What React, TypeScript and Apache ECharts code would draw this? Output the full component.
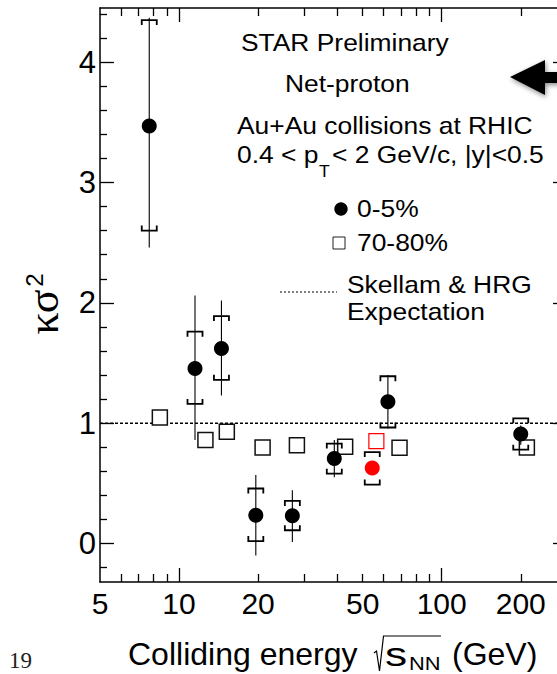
import React, { useEffect, useRef } from "react";
import * as echarts from "echarts";

// ---- data ----
const energies = [7.7, 11.5, 14.5, 19.6, 27, 39, 54.4, 62.4, 200];
// 0-5% most central (filled circles)
const central = [3.47, 1.455, 1.62, 0.235, 0.23, 0.707, 0.628, 1.177, 0.909];
const centralStatLow = [2.46, 0.86, 1.23, -0.1, 0.013, 0.55, 0.6, 0.956, 0.82];
const centralStatHigh = [4.37, 2.06, 2.02, 0.57, 0.443, 0.86, 0.66, 1.4, 0.98];
const centralSysLow = [2.6, 1.16, 1.36, 0.02, 0.11, 0.58, 0.49, 0.964, 0.78];
const centralSysHigh = [4.35, 1.76, 1.89, 0.457, 0.354, 0.83, 0.76, 1.39, 1.04];
// 70-80% peripheral (open squares, drawn slightly shifted in energy)
const peripheralEnergies = [8.45, 12.6, 15.2, 20.8, 28.1, 42.9, 56.4, 69.1, 211];
const peripheral = [1.047, 0.859, 0.928, 0.798, 0.817, 0.803, 0.85, 0.795, 0.798];
const highlightIndex = 6; // 54.4 GeV drawn in red
const expectation = 1;

const xLabelValues = [5, 10, 20, 50, 100, 200];
const xMajorTicks = [10, 100];
const xMinorTicks = [6, 7, 8, 9, 20, 30, 40, 50, 60, 70, 80, 90, 200];
const xRange = [5, 300];
const yLabelValues = [0, 1, 2, 3, 4];
const yMinorTicks = [-0.2, 0.2, 0.4, 0.6, 0.8, 1.2, 1.4, 1.6, 1.8, 2.2, 2.4, 2.6, 2.8, 3.2, 3.4, 3.6, 3.8, 4.2, 4.4];
const yRange = [-0.32, 4.45];

const SANS = '"Liberation Sans", Arial, Helvetica, sans-serif';
const SERIF = '"Liberation Serif", "Times New Roman", serif';

const lg = (v: number) => Math.log10(v);

export default function App() {
  const ref = useRef<HTMLDivElement>(null);

  useEffect(() => {
    if (!ref.current) return;
    const chart = echarts.init(ref.current, null, { renderer: "svg" });

    const xMin = lg(xRange[0]);
    const xMax = lg(xRange[1]);
    const lineBlack = { color: "#000", width: 1.5 };
    const tickStyle = { color: "#000", width: 1.3 };

    const xBase = (position: string) => ({
      type: "value",
      position,
      min: xMin,
      max: xMax,
      splitLine: { show: false },
    });
    const yBase = (position: string) => ({
      type: "value",
      position,
      min: yRange[0],
      max: yRange[1],
      splitLine: { show: false },
    });

    const xAxis = [
      {
        ...xBase("bottom"),
        axisLine: { show: true, onZero: false, lineStyle: lineBlack },
        axisTick: { show: true, inside: true, length: 14, customValues: xMajorTicks.map(lg), lineStyle: tickStyle },
        axisLabel: {
          show: true,
          customValues: xLabelValues.map(lg),
          formatter: (v: number) => String(Math.round(Math.pow(10, v))),
          fontSize: 30,
          fontFamily: SANS,
          color: "#000",
          margin: 6,
        },
      },
      {
        ...xBase("bottom"),
        axisLine: { show: false, onZero: false },
        axisTick: { show: true, inside: true, length: 8, customValues: xMinorTicks.map(lg), lineStyle: tickStyle },
        axisLabel: { show: false },
      },
      {
        ...xBase("top"),
        axisLine: { show: true, onZero: false, lineStyle: lineBlack },
        axisTick: { show: true, inside: true, length: 14, customValues: xMajorTicks.map(lg), lineStyle: tickStyle },
        axisLabel: { show: false },
      },
      {
        ...xBase("top"),
        axisLine: { show: false, onZero: false },
        axisTick: { show: true, inside: true, length: 8, customValues: xMinorTicks.map(lg), lineStyle: tickStyle },
        axisLabel: { show: false },
      },
    ];

    const yAxis = [
      {
        ...yBase("left"),
        axisLine: { show: true, onZero: false, lineStyle: lineBlack },
        axisTick: { show: true, inside: true, length: 14, customValues: yLabelValues, lineStyle: tickStyle },
        axisLabel: {
          show: true,
          customValues: yLabelValues,
          formatter: (v: number) => String(v),
          fontSize: 31,
          fontFamily: SANS,
          color: "#000",
          margin: 4,
        },
      },
      {
        ...yBase("left"),
        axisLine: { show: false, onZero: false },
        axisTick: { show: true, inside: true, length: 7, customValues: yMinorTicks, lineStyle: tickStyle },
        axisLabel: { show: false },
      },
      {
        ...yBase("right"),
        axisLine: { show: true, onZero: false, lineStyle: lineBlack },
        axisTick: { show: true, inside: true, length: 14, customValues: yLabelValues, lineStyle: tickStyle },
        axisLabel: { show: false },
      },
      {
        ...yBase("right"),
        axisLine: { show: false, onZero: false },
        axisTick: { show: true, inside: true, length: 7, customValues: yMinorTicks, lineStyle: tickStyle },
        axisLabel: { show: false },
      },
    ];

    const statData = energies.map((e, i) => [lg(e), centralStatLow[i], centralStatHigh[i]]);
    const sysData = energies.map((e, i) => [lg(e), centralSysLow[i], centralSysHigh[i]]);
    const circleData = energies.map((e, i) => {
      const item: any = { value: [lg(e), central[i]] };
      if (i === highlightIndex) item.itemStyle = { color: "#ff0000" };
      return item;
    });
    const squareData = peripheralEnergies.map((e, i) => {
      const item: any = { value: [lg(e), peripheral[i]] };
      if (i === highlightIndex) item.itemStyle = { borderColor: "#ff0000", borderWidth: 1.2 };
      return item;
    });

    const W = 7.5; // half bracket width
    const H = 5; // bracket end length

    const graphic: any[] = [
      // header texts
      { type: "text", x: 241, y: 42, scaleX: 1.1, style: { text: "STAR Preliminary", font: `24px ${SANS}`, fill: "#000", align: "left", verticalAlign: "middle" } },
      { type: "text", x: 285, y: 83, scaleX: 1.1, style: { text: "Net-proton", font: `24px ${SANS}`, fill: "#000", align: "left", verticalAlign: "middle" } },
      { type: "text", x: 237, y: 125, scaleX: 1.1, style: { text: "Au+Au collisions at RHIC", font: `24px ${SANS}`, fill: "#000", align: "left", verticalAlign: "middle" } },
      { type: "text", x: 237, y: 154, scaleX: 1.1, style: { text: "0.4 < p", font: `24px ${SANS}`, fill: "#000", align: "left", verticalAlign: "middle" } },
      { type: "text", x: 319, y: 172, scaleX: 1.1, style: { text: "T", font: `16px ${SANS}`, fill: "#000", align: "left", verticalAlign: "middle" } },
      { type: "text", x: 332, y: 154, scaleX: 1.1, style: { text: "< 2 GeV/c, |y|<0.5", font: `24px ${SANS}`, fill: "#000", align: "left", verticalAlign: "middle" } },
      // legend
      { type: "circle", shape: { cx: 341, cy: 209, r: 6.7 }, style: { fill: "#000" } },
      { type: "text", x: 357, y: 208, scaleX: 1.1, style: { text: "0-5%", font: `24px ${SANS}`, fill: "#000", align: "left", verticalAlign: "middle" } },
      { type: "rect", shape: { x: 333, y: 237, width: 12, height: 12 }, style: { fill: "#fff", stroke: "#222", lineWidth: 1 } },
      { type: "text", x: 357, y: 242, scaleX: 1.1, style: { text: "70-80%", font: `24px ${SANS}`, fill: "#000", align: "left", verticalAlign: "middle" } },
      { type: "line", shape: { x1: 280, y1: 292, x2: 337, y2: 292 }, style: { stroke: "#000", lineWidth: 1.2, lineDash: [2, 2] } },
      { type: "text", x: 347, y: 284, scaleX: 1.1, style: { text: "Skellam & HRG", font: `24px ${SANS}`, fill: "#000", align: "left", verticalAlign: "middle" } },
      { type: "text", x: 347, y: 311, scaleX: 1.1, style: { text: "Expectation", font: `24px ${SANS}`, fill: "#000", align: "left", verticalAlign: "middle" } },
      // arrow
      {
        type: "polygon",
        shape: { points: [[510, 77], [545, 60], [545, 72], [562, 72], [562, 83], [545, 83], [545, 95]] },
        style: { fill: "#000", shadowBlur: 5, shadowColor: "rgba(0,0,0,0.45)", shadowOffsetX: 1, shadowOffsetY: 2 },
      },
      // y axis title
      { type: "text", x: 43, y: 312, rotation: Math.PI / 2, style: { text: "κσ", font: `44px ${SERIF}`, fill: "#000", align: "center", verticalAlign: "middle" } },
      { type: "text", x: 34, y: 280, rotation: Math.PI / 2, style: { text: "2", font: `24px ${SANS}`, fill: "#000", align: "center", verticalAlign: "middle" } },
      // x axis title
      { type: "text", x: 128, y: 654, style: { text: "Colliding energy", font: `32px ${SANS}`, fill: "#000", align: "left", verticalAlign: "middle" } },
      { type: "polyline", shape: { points: [[374, 653], [376.5, 651], [379.5, 671], [383.5, 636], [441, 636]] }, style: { stroke: "#000", lineWidth: 1.2, fill: null } },
      { type: "text", x: 385, y: 654, scaleX: 1.3, style: { text: "s", font: `34px ${SANS}`, fill: "#000", align: "left", verticalAlign: "middle" } },
      { type: "text", x: 409, y: 663, scaleX: 1.15, style: { text: "NN", font: `19px ${SANS}`, fill: "#000", align: "left", verticalAlign: "middle" } },
      { type: "text", x: 452, y: 654, style: { text: "(GeV)", font: `32px ${SANS}`, fill: "#000", align: "left", verticalAlign: "middle" } },
      // slide number fragment
      { type: "text", x: 9, y: 660, style: { text: "19", font: `23px ${SERIF}`, fill: "#222", align: "left", verticalAlign: "middle" } },
    ];

    chart.setOption({
      animation: false,
      backgroundColor: "#fff",
      grid: { left: 100, top: 8, right: 13, bottom: 92, containLabel: false },
      xAxis,
      yAxis,
      graphic,
      series: [
        {
          type: "line",
          name: "Skellam & HRG",
          xAxisIndex: 0,
          yAxisIndex: 0,
          data: [[xMin, expectation], [xMax, expectation]],
          symbol: "none",
          silent: true,
          lineStyle: { color: "#000", width: 1.5, type: [3, 2] },
          z: 1,
        },
        {
          type: "scatter",
          name: "70-80%",
          xAxisIndex: 0,
          yAxisIndex: 0,
          data: squareData,
          symbol: "rect",
          symbolSize: 15,
          silent: true,
          itemStyle: { color: "#fff", borderColor: "#111", borderWidth: 1.5, opacity: 1 },
          z: 2,
        },
        {
          type: "custom",
          name: "stat",
          xAxisIndex: 0,
          yAxisIndex: 0,
          data: statData,
          silent: true,
          z: 3,
          renderItem: (params: any, api: any) => {
            const p1 = api.coord([api.value(0), api.value(1)]);
            const p2 = api.coord([api.value(0), api.value(2)]);
            return {
              type: "line",
              shape: { x1: p1[0], y1: p1[1], x2: p2[0], y2: p2[1] },
              style: { stroke: "#000", lineWidth: 1.1 },
            };
          },
        },
        {
          type: "custom",
          name: "sys",
          xAxisIndex: 0,
          yAxisIndex: 0,
          data: sysData,
          silent: true,
          z: 4,
          renderItem: (params: any, api: any) => {
            const lo = api.coord([api.value(0), api.value(1)]);
            const hi = api.coord([api.value(0), api.value(2)]);
            const x = lo[0];
            return {
              type: "group",
              children: [
                {
                  type: "polyline",
                  shape: { points: [[x - W, hi[1] + H], [x - W, hi[1]], [x + W, hi[1]], [x + W, hi[1] + H]] },
                  style: { stroke: "#000", lineWidth: 1.8, fill: null },
                },
                {
                  type: "polyline",
                  shape: { points: [[x - W, lo[1] - H], [x - W, lo[1]], [x + W, lo[1]], [x + W, lo[1] - H]] },
                  style: { stroke: "#000", lineWidth: 1.8, fill: null },
                },
              ],
            };
          },
        },
        {
          type: "scatter",
          name: "0-5%",
          xAxisIndex: 0,
          yAxisIndex: 0,
          data: circleData,
          symbol: "circle",
          symbolSize: 15,
          silent: true,
          itemStyle: { color: "#000", opacity: 1 },
          z: 5,
        },
      ],
    });

    return () => chart.dispose();
  }, []);

  return (
    <div style={{ position: "absolute", left: 0, top: 0, width: 557, height: 674, overflow: "hidden", background: "#fff" }}>
      <div ref={ref} style={{ position: "absolute", left: 0, top: 0, width: 580, height: 674 }} />
    </div>
  );
}
